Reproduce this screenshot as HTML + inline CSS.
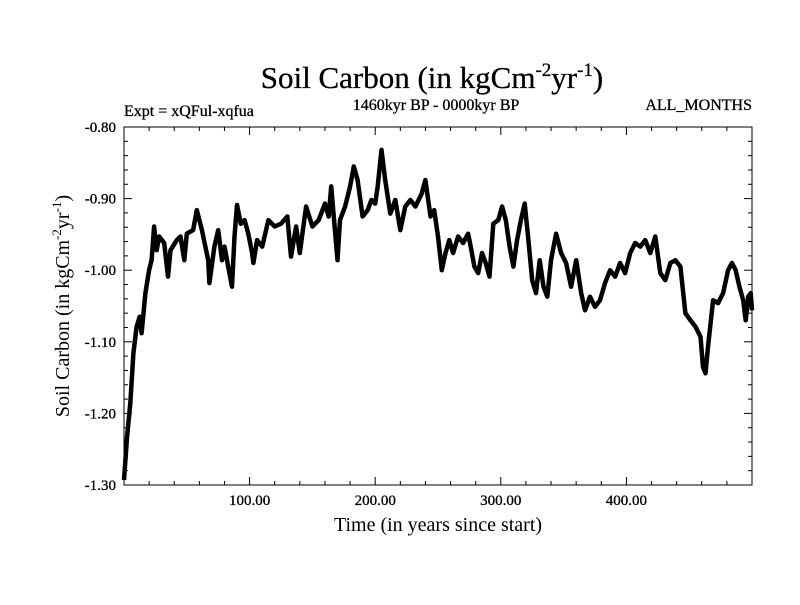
<!DOCTYPE html>
<html><head><meta charset="utf-8"><style>
body{margin:0;background:#fff;}
svg text{font-family:"Liberation Serif",serif;fill:#000;}
</style></head><body>
<svg id="chart" width="800" height="600" xmlns="http://www.w3.org/2000/svg">
<text x="432" y="88" text-anchor="middle" font-size="31" stroke="#000" stroke-width="0.3">Soil Carbon (in kgCm<tspan dy="-12" font-size="19">-2</tspan><tspan dy="12">yr</tspan><tspan dy="-12" font-size="19">-1</tspan><tspan dy="12">)</tspan></text>
<text x="124" y="116" font-size="16" stroke="#000" stroke-width="0.3">Expt = xQFul-xqfua</text>
<text x="436" y="110" text-anchor="middle" font-size="16" stroke="#000" stroke-width="0.3">1460kyr BP - 0000kyr BP</text>
<text x="752" y="110" text-anchor="end" font-size="16" stroke="#000" stroke-width="0.3">ALL_MONTHS</text>
<text x="438" y="531" text-anchor="middle" font-size="20">Time (in years since start)</text>
<text transform="translate(69,306) rotate(-90)" text-anchor="middle" font-size="20">Soil Carbon (in kgCm<tspan dy="-8" font-size="13">-2</tspan><tspan dy="8">yr</tspan><tspan dy="-8" font-size="13">-1</tspan><tspan dy="8">)</tspan></text>
<g id="axes"></g>
<path id="series" fill="none" stroke="#000" stroke-width="4.5" stroke-linejoin="round"/>
<rect x="124" y="127" width="628" height="358" fill="none" stroke="#000" stroke-width="1"/>
</svg>
<script>
const years=[0,2.5,5,7.5,10,12.5,14,17,20,22,24,26,28,32,35,37,42,45,48,50,55,58,62,67,68,72,75,78,80,83,86,88,90,93,96,99,102,103,106,110,115,120,125,130,133,137,140,145,150,155,160,163,165,170,172,176,180,183,186,190,194,197,200,202,205,208,212,216,220,224,228,232,237,240,244,247,250,253,256,259,262,266,270,274,276,279,282,285,288,291,294,298,301,304,307,310,313,316,319,322,325,328,331,334,337,340,344,348,352,356,360,364,367,371,375,379,383,387,391,395,399,403,407,411,415,419,423,427,431,435,439,443,447,451,455,459,461,463,465,469,473,477,481,484,487,490,493,495,497,499,500];
const values=[-1.293,-1.232,-1.186,-1.116,-1.079,-1.065,-1.088,-1.032,-1.000,-0.986,-0.939,-0.972,-0.953,-0.962,-1.009,-0.972,-0.958,-0.953,-0.986,-0.949,-0.944,-0.916,-0.944,-0.986,-1.018,-0.967,-0.944,-0.986,-0.967,-0.995,-1.023,-0.953,-0.909,-0.935,-0.930,-0.949,-0.976,-0.990,-0.958,-0.967,-0.930,-0.939,-0.935,-0.925,-0.981,-0.939,-0.976,-0.911,-0.939,-0.930,-0.907,-0.925,-0.883,-0.986,-0.930,-0.911,-0.883,-0.855,-0.874,-0.925,-0.916,-0.902,-0.907,-0.883,-0.832,-0.874,-0.921,-0.902,-0.944,-0.911,-0.902,-0.911,-0.893,-0.874,-0.925,-0.916,-0.953,-1.000,-0.976,-0.958,-0.976,-0.953,-0.962,-0.949,-0.967,-0.995,-1.004,-0.976,-0.990,-1.009,-0.935,-0.930,-0.911,-0.930,-0.967,-0.995,-0.958,-0.930,-0.907,-0.958,-1.014,-1.032,-0.986,-1.023,-1.037,-0.986,-0.949,-0.976,-0.990,-1.023,-0.986,-1.032,-1.056,-1.037,-1.051,-1.042,-1.018,-1.000,-1.009,-0.990,-1.004,-0.976,-0.962,-0.967,-0.958,-0.976,-0.953,-1.004,-1.014,-0.990,-0.986,-0.995,-1.060,-1.070,-1.079,-1.093,-1.135,-1.144,-1.107,-1.042,-1.046,-1.032,-1.000,-0.990,-1.000,-1.023,-1.042,-1.070,-1.037,-1.032,-1.056];
const yTicks=[-0.80,-0.90,-1.00,-1.10,-1.20,-1.30];
const yTickLabels=["-0.80","-0.90","-1.00","-1.10","-1.20","-1.30"];
const xTicks=[100,200,300,400];
const xTickLabels=["100.00","200.00","300.00","400.00"];
const X0=124,X1=752,Y0=127,Y1=485,XMIN=0,XMAX=500,YMIN=-1.30,YMAX=-0.80;
const sx=v=>X0+(v-XMIN)/(XMAX-XMIN)*(X1-X0);
const sy=v=>Y1-(v-YMIN)/(YMAX-YMIN)*(Y1-Y0);
const NS="http://www.w3.org/2000/svg";
const axes=document.getElementById('axes');
function line(x1,y1,x2,y2,name){const l=document.createElementNS(NS,'line');
l.setAttribute('x1',x1);l.setAttribute('y1',y1);l.setAttribute('x2',x2);l.setAttribute('y2',y2);
l.setAttribute('stroke','#000');l.setAttribute('stroke-width','1');


axes.appendChild(l);}
function txt(x,y,s,anchor,name){const t=document.createElementNS(NS,'text');
t.setAttribute('x',x);t.setAttribute('y',y);t.setAttribute('text-anchor',anchor);t.setAttribute('font-size','15');
t.setAttribute('stroke','#000');t.setAttribute('stroke-width','0.3');t.textContent=s;


axes.appendChild(t);}
for(let v=20;v<XMAX;v+=20){const x=sx(v);const major=v%100===0;const L=major?8:4;
line(x,Y1,x,Y1-L,'x-tick');line(x,Y0,x,Y0+L,'x-tick-top');}
for(let i=0;i<=25;i++){const v=YMIN+i*0.02;const y=sy(v);const major=i%5===0;const L=major?8:4;
line(X0,y,X0+L,y,'y-tick');line(X1,y,X1-L,y,'y-tick-right');}
xTicks.forEach((v,i)=>txt(sx(v),505,xTickLabels[i],'middle','x-tick-label'));
yTicks.forEach((v,i)=>txt(X0-8,sy(v)+5,yTickLabels[i],'end','y-tick-label'));
let d='';years.forEach((yr,i)=>{d+=(i?'L':'M')+sx(yr).toFixed(1)+','+sy(values[i]).toFixed(1);});
document.getElementById('series').setAttribute('d',d);
</script>
</body></html>
